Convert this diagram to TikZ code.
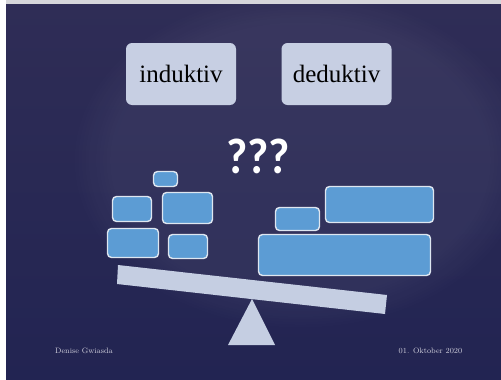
\documentclass[tikz,border=0pt]{standalone}
\usepackage{fontspec}
\newfontfamily\qfont{Carlito}
\newfontfamily\headfont{Liberation Serif}
\usetikzlibrary{fadings}
\begin{document}
\begin{tikzpicture}[x=1pt,y=-1pt,
  topbox/.style={fill=lavbox, rounded corners=6pt, inner sep=0pt,
    font=\headfont\fontsize{25}{28}\selectfont, text=black},
  bluebox/.style={fill=boxblue, draw=boxedge, line width=1.4pt,
    rounded corners=4pt, inner sep=0pt},
  foot/.style={text=foottext, font=\fontsize{7.8}{9}\selectfont, inner sep=0pt}]
\definecolor{slidetop}{RGB}{47,45,86}
\definecolor{slidebot}{RGB}{34,36,82}
\definecolor{lavbox}{RGB}{199,207,227}
\definecolor{boxblue}{RGB}{92,156,212}
\definecolor{boxedge}{RGB}{222,230,240}
\definecolor{beamcol}{RGB}{197,206,226}
\definecolor{foottext}{RGB}{205,205,218}
\definecolor{framegray}{RGB}{214,214,218}
\useasboundingbox (0,0) rectangle (501,380);
% page frame and slide background
\fill[white] (0,0) rectangle (501,380);
\fill[framegray] (6,0) rectangle (501,4);
\shade[top color=slidetop, bottom color=slidebot] (6,4) rectangle (501,380);
\fill[white, opacity=0.05, path fading=circle with fuzzy edge 20 percent]
  (300,160) ellipse (230pt and 170pt);
% headings
\node[topbox, minimum width=110pt, minimum height=62pt] (ind) at (181,74) {induktiv};
\node[topbox, minimum width=110pt, minimum height=62pt] (ded) at (336.5,74) {deduktiv};
% question marks
\node[text=white, inner sep=0pt, xscale=0.92,
  font=\qfont\bfseries\fontsize{50}{52}\selectfont] (q) at (258,156) {???};
% weights on the left pan
\node[bluebox, minimum width=24pt, minimum height=15pt] (l1) at (165.5,179) {};
\node[bluebox, minimum width=39pt, minimum height=25pt] (l2) at (132,209) {};
\node[bluebox, minimum width=50pt, minimum height=31pt] (l3) at (187.5,208) {};
\node[bluebox, minimum width=51pt, minimum height=29pt] (l4) at (133,243) {};
\node[bluebox, minimum width=39pt, minimum height=24pt] (l5) at (188,246.5) {};
% weights on the right pan
\node[bluebox, minimum width=44pt, minimum height=23pt] (r1) at (297.5,219) {};
\node[bluebox, minimum width=108pt, minimum height=36pt] (r2) at (379.5,204.5) {};
\node[bluebox, minimum width=172pt, minimum height=41pt] (r3) at (344.5,255) {};
% tilted beam and fulcrum
\fill[beamcol] (118,265) -- (117,284) -- (385,314) -- (387,295) -- cycle;
\fill[beamcol] (252,299) -- (228,345) -- (275,345) -- cycle;
% footer
\node[foot] (author) at (84,351) {Denise Gwiasda};
\node[foot] (date) at (430.5,351) {01. Oktober 2020};
\end{tikzpicture}
\end{document}
